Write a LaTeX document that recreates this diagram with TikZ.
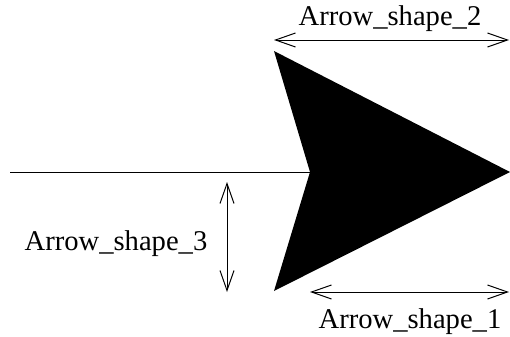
\documentclass[tikz,border=0pt]{standalone}
\usepackage{fontspec}
\setmainfont{Liberation Serif}
\usetikzlibrary{arrows.meta, positioning, calc}

\begin{document}
\begin{tikzpicture}[x=0.5pt, y=-0.5pt, line width=0.5pt, every node/.style={font=\fontsize{14.3}{16}\selectfont, inner sep=0pt},
    dim/.style={{Straight Barb[length=10pt, width=7pt]}-{Straight Barb[length=10pt, width=7pt]}}]
    \useasboundingbox (0,0) rectangle (510,337);
    % arrow head outline
    \coordinate (top) at (274,51);
    \coordinate (tip) at (510,172);
    \coordinate (bot) at (274,291);
    \coordinate (notch) at (310,172);
    \coordinate (tail) at (10,172);
    \fill (top) -- (tip) -- (bot) -- (notch) -- cycle;
    \draw (tail) -- (notch);
    % dimension lines
    \coordinate (d2a) at (274,40);
    \coordinate (d2b) at (509,40);
    \coordinate (d1a) at (310,292);
    \coordinate (d1b) at (509,292);
    \coordinate (d3a) at (227,182);
    \coordinate (d3b) at (227,292);
    \draw[dim] (d2a) -- (d2b);
    \draw[dim] (d1a) -- (d1b);
    \draw[dim] (d3a) -- (d3b);
    \node (lab2) at (390,19) {Arrow\_shape\_2};
    \node (lab1) at (410,322) {Arrow\_shape\_1};
    \node (lab3) at (116,244) {Arrow\_shape\_3};
\end{tikzpicture}
\end{document}
